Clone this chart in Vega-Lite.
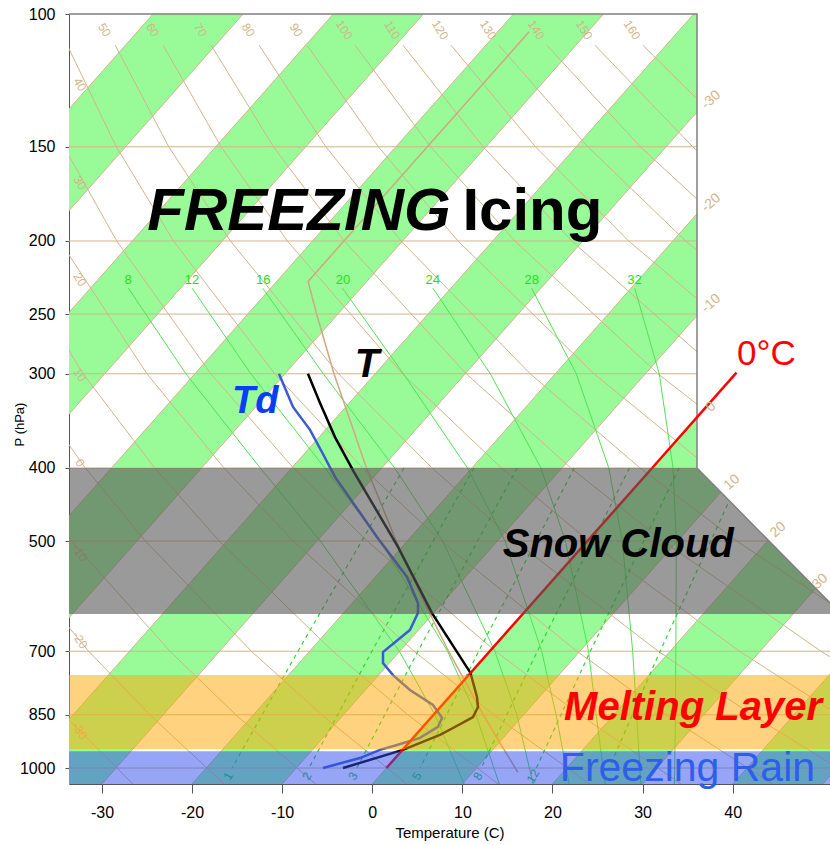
{
"$schema": "https://vega.github.io/schema/vega-lite/v6.json",
"width": 761, "height": 770,
"autosize": {"type": "none"},
"padding": {"left": 69, "top": 14, "right": 0, "bottom": 61},
"background": "white",
"config": {"view": {"stroke": null}, "font": "Liberation Sans",
  "axis": {"grid": false, "labelFont": "Liberation Sans", "titleFont": "Liberation Sans", "labelColor": "#000", "titleColor": "#000", "domainColor": "#555", "tickColor": "#555", "titleFontWeight": "normal"}},
"datasets": {
 "stripes": [
  {"band": -100, "p": 1050, "x": -100, "x2": -90}, {"band": -100, "p": 100, "x": -24.33, "x2": -14.33},
  {"band": -80, "p": 1050, "x": -80, "x2": -70}, {"band": -80, "p": 100, "x": -4.33, "x2": 5.67},
  {"band": -60, "p": 1050, "x": -60, "x2": -50}, {"band": -60, "p": 100, "x": 15.67, "x2": 25.67},
  {"band": -40, "p": 1050, "x": -40, "x2": -30}, {"band": -40, "p": 100, "x": 35.67, "x2": 45.67},
  {"band": -20, "p": 1050, "x": -20, "x2": -10}, {"band": -20, "p": 100, "x": 55.67, "x2": 65.67},
  {"band": 0, "p": 1050, "x": 0, "x2": 10}, {"band": 0, "p": 100, "x": 75.67, "x2": 85.67},
  {"band": 20, "p": 1050, "x": 20, "x2": 30}, {"band": 20, "p": 100, "x": 95.67, "x2": 105.67},
  {"band": 40, "p": 1050, "x": 40, "x2": 50}, {"band": 40, "p": 100, "x": 115.67, "x2": 125.67}
 ],
 "isotherms": [
  {"x": -110, "xt": -34.33, "p": 1050, "pt": 100}, {"x": -100, "xt": -24.33, "p": 1050, "pt": 100},
  {"x": -90, "xt": -14.33, "p": 1050, "pt": 100}, {"x": -80, "xt": -4.33, "p": 1050, "pt": 100},
  {"x": -70, "xt": 5.67, "p": 1050, "pt": 100}, {"x": -60, "xt": 15.67, "p": 1050, "pt": 100},
  {"x": -50, "xt": 25.67, "p": 1050, "pt": 100}, {"x": -40, "xt": 35.67, "p": 1050, "pt": 100},
  {"x": -30, "xt": 45.67, "p": 1050, "pt": 100}, {"x": -20, "xt": 55.67, "p": 1050, "pt": 100},
  {"x": -10, "xt": 65.67, "p": 1050, "pt": 100}, {"x": 0, "xt": 75.67, "p": 1050, "pt": 100},
  {"x": 10, "xt": 85.67, "p": 1050, "pt": 100}, {"x": 20, "xt": 95.67, "p": 1050, "pt": 100},
  {"x": 30, "xt": 105.67, "p": 1050, "pt": 100}, {"x": 40, "xt": 115.67, "p": 1050, "pt": 100},
  {"x": 50, "xt": 125.67, "p": 1050, "pt": 100}
 ],
 "isobars": [{"p": 150}, {"p": 200}, {"p": 250}, {"p": 300}, {"p": 400}, {"p": 500}, {"p": 700}, {"p": 850}, {"p": 1000}],
 "dry": [
  {"th": -30, "p": 500, "x": -49.79}, {"th": -30, "p": 700, "x": -40.51}, {"th": -30, "p": 850, "x": -34.24}, {"th": -30, "p": 1050, "x": -26.58},
  {"th": -20, "p": 500, "x": -41.59}, {"th": -20, "p": 700, "x": -31.48}, {"th": -20, "p": 850, "x": -24.69}, {"th": -20, "p": 1050, "x": -16.44},
  {"th": -10, "p": 300, "x": -46.28}, {"th": -10, "p": 400, "x": -39.55}, {"th": -10, "p": 500, "x": -33.38}, {"th": -10, "p": 700, "x": -22.45}, {"th": -10, "p": 850, "x": -15.15}, {"th": -10, "p": 1050, "x": -6.30},
  {"th": 0, "p": 200, "x": -47.31}, {"th": 0, "p": 300, "x": -39.19}, {"th": 0, "p": 400, "x": -31.85}, {"th": 0, "p": 500, "x": -25.18}, {"th": 0, "p": 700, "x": -13.42}, {"th": 0, "p": 850, "x": -5.60}, {"th": 0, "p": 1050, "x": 3.84},
  {"th": 10, "p": 150, "x": -45.85}, {"th": 10, "p": 200, "x": -41.00}, {"th": 10, "p": 300, "x": -32.10}, {"th": 10, "p": 400, "x": -24.15}, {"th": 10, "p": 500, "x": -16.98}, {"th": 10, "p": 700, "x": -4.39}, {"th": 10, "p": 850, "x": 3.95}, {"th": 10, "p": 1050, "x": 13.98},
  {"th": 20, "p": 110, "x": -44.50}, {"th": 20, "p": 150, "x": -40.04}, {"th": 20, "p": 200, "x": -34.68}, {"th": 20, "p": 300, "x": -25.01}, {"th": 20, "p": 400, "x": -16.46}, {"th": 20, "p": 500, "x": -8.77}, {"th": 20, "p": 700, "x": 4.64}, {"th": 20, "p": 850, "x": 13.49}, {"th": 20, "p": 1050, "x": 24.12},
  {"th": 30, "p": 110, "x": -39.18}, {"th": 30, "p": 150, "x": -34.22}, {"th": 30, "p": 200, "x": -28.37}, {"th": 30, "p": 300, "x": -17.92}, {"th": 30, "p": 400, "x": -8.76}, {"th": 30, "p": 500, "x": -0.57}, {"th": 30, "p": 700, "x": 13.67}, {"th": 30, "p": 850, "x": 23.04}, {"th": 30, "p": 1050, "x": 34.26},
  {"th": 40, "p": 110, "x": -33.86}, {"th": 40, "p": 150, "x": -28.41}, {"th": 40, "p": 200, "x": -22.06}, {"th": 40, "p": 300, "x": -10.83}, {"th": 40, "p": 400, "x": -1.06}, {"th": 40, "p": 500, "x": 7.63}, {"th": 40, "p": 700, "x": 22.70}, {"th": 40, "p": 850, "x": 32.59}, {"th": 40, "p": 1050, "x": 44.40},
  {"th": 50, "p": 110, "x": -28.53}, {"th": 50, "p": 150, "x": -22.59}, {"th": 50, "p": 200, "x": -15.74}, {"th": 50, "p": 300, "x": -3.75}, {"th": 50, "p": 400, "x": 6.63}, {"th": 50, "p": 500, "x": 15.84}, {"th": 50, "p": 700, "x": 31.73}, {"th": 50, "p": 850, "x": 42.13}, {"th": 50, "p": 1050, "x": 54.54},
  {"th": 60, "p": 110, "x": -23.21}, {"th": 60, "p": 150, "x": -16.78}, {"th": 60, "p": 200, "x": -9.43}, {"th": 60, "p": 300, "x": 3.34}, {"th": 60, "p": 400, "x": 14.33}, {"th": 60, "p": 500, "x": 24.04}, {"th": 60, "p": 700, "x": 40.76}, {"th": 60, "p": 850, "x": 51.68},
  {"th": 70, "p": 110, "x": -17.89}, {"th": 70, "p": 150, "x": -10.96}, {"th": 70, "p": 200, "x": -3.12}, {"th": 70, "p": 300, "x": 10.43}, {"th": 70, "p": 400, "x": 22.03}, {"th": 70, "p": 500, "x": 32.25}, {"th": 70, "p": 700, "x": 49.79}, {"th": 70, "p": 850, "x": 61.22},
  {"th": 80, "p": 110, "x": -12.56}, {"th": 80, "p": 150, "x": -5.15}, {"th": 80, "p": 200, "x": 3.20}, {"th": 80, "p": 300, "x": 17.52}, {"th": 80, "p": 400, "x": 29.72}, {"th": 80, "p": 500, "x": 40.45}, {"th": 80, "p": 700, "x": 58.82},
  {"th": 90, "p": 110, "x": -7.24}, {"th": 90, "p": 150, "x": 0.67}, {"th": 90, "p": 200, "x": 9.51}, {"th": 90, "p": 300, "x": 24.61}, {"th": 90, "p": 400, "x": 37.42}, {"th": 90, "p": 500, "x": 48.66}, {"th": 90, "p": 700, "x": 67.85},
  {"th": 100, "p": 110, "x": -1.91}, {"th": 100, "p": 150, "x": 6.48}, {"th": 100, "p": 200, "x": 15.83}, {"th": 100, "p": 300, "x": 31.70}, {"th": 100, "p": 400, "x": 45.12}, {"th": 100, "p": 500, "x": 56.86},
  {"th": 110, "p": 110, "x": 3.41}, {"th": 110, "p": 150, "x": 12.30}, {"th": 110, "p": 200, "x": 22.14}, {"th": 110, "p": 300, "x": 38.79}, {"th": 110, "p": 400, "x": 52.81},
  {"th": 120, "p": 110, "x": 8.73}, {"th": 120, "p": 150, "x": 18.11}, {"th": 120, "p": 200, "x": 28.45}, {"th": 120, "p": 300, "x": 45.88}, {"th": 120, "p": 400, "x": 60.51},
  {"th": 130, "p": 110, "x": 14.06}, {"th": 130, "p": 150, "x": 23.93}, {"th": 130, "p": 200, "x": 34.77}, {"th": 130, "p": 300, "x": 52.97},
  {"th": 140, "p": 110, "x": 19.38}, {"th": 140, "p": 150, "x": 29.75}, {"th": 140, "p": 200, "x": 41.08}, {"th": 140, "p": 300, "x": 60.06},
  {"th": 150, "p": 110, "x": 24.71}, {"th": 150, "p": 150, "x": 35.56}, {"th": 150, "p": 200, "x": 47.40},
  {"th": 160, "p": 110, "x": 30.03}, {"th": 160, "p": 150, "x": 41.38}, {"th": 160, "p": 200, "x": 53.71}
 ],
 "drylabels": [
  {"label": "50", "x": -29.73, "p": 105}, {"label": "60", "x": -24.41, "p": 105}, {"label": "70", "x": -19.09, "p": 105},
  {"label": "80", "x": -13.76, "p": 105}, {"label": "90", "x": -8.44, "p": 105}, {"label": "100", "x": -3.11, "p": 105},
  {"label": "110", "x": 2.21, "p": 105}, {"label": "120", "x": 7.53, "p": 105}, {"label": "130", "x": 12.86, "p": 105},
  {"label": "140", "x": 18.18, "p": 105}, {"label": "150", "x": 23.51, "p": 105}, {"label": "160", "x": 28.83, "p": 105},
  {"label": "40", "x": -32.44, "p": 124}, {"label": "30", "x": -32.44, "p": 167.5}, {"label": "20", "x": -32.44, "p": 225},
  {"label": "10", "x": -32.44, "p": 301}, {"label": "0", "x": -32.44, "p": 394}, {"label": "-10", "x": -32.44, "p": 518.6},
  {"label": "-20", "x": -32.44, "p": 676.6}, {"label": "-30", "x": -32.44, "p": 893}
 ],
 "moist": [
  {"tw": 8, "p": 231, "x": -27.07}, {"tw": 8, "p": 300, "x": -20.69}, {"tw": 8, "p": 400, "x": -12.44}, {"tw": 8, "p": 500, "x": -5.77}, {"tw": 8, "p": 700, "x": 3.0}, {"tw": 8, "p": 850, "x": 6.95}, {"tw": 8, "p": 1050, "x": 10.2},
  {"tw": 12, "p": 231, "x": -20.0}, {"tw": 12, "p": 300, "x": -13.48}, {"tw": 12, "p": 400, "x": -5.27}, {"tw": 12, "p": 500, "x": 0.89}, {"tw": 12, "p": 700, "x": 8.35}, {"tw": 12, "p": 850, "x": 11.5}, {"tw": 12, "p": 1050, "x": 14.1},
  {"tw": 16, "p": 231, "x": -12.16}, {"tw": 16, "p": 300, "x": -5.44}, {"tw": 16, "p": 400, "x": 2.48}, {"tw": 16, "p": 500, "x": 7.81}, {"tw": 16, "p": 700, "x": 13.6}, {"tw": 16, "p": 850, "x": 16.05}, {"tw": 16, "p": 1050, "x": 17.85},
  {"tw": 20, "p": 231, "x": -3.31}, {"tw": 20, "p": 300, "x": 3.45}, {"tw": 20, "p": 400, "x": 10.56}, {"tw": 20, "p": 500, "x": 14.73}, {"tw": 20, "p": 700, "x": 18.8}, {"tw": 20, "p": 850, "x": 20.4}, {"tw": 20, "p": 1050, "x": 21.85},
  {"tw": 24, "p": 231, "x": 6.73}, {"tw": 24, "p": 300, "x": 13.1}, {"tw": 24, "p": 400, "x": 18.71}, {"tw": 24, "p": 500, "x": 21.43}, {"tw": 24, "p": 700, "x": 24.0}, {"tw": 24, "p": 850, "x": 24.85}, {"tw": 24, "p": 1050, "x": 25.85},
  {"tw": 28, "p": 231, "x": 17.68}, {"tw": 28, "p": 300, "x": 22.64}, {"tw": 28, "p": 400, "x": 26.25}, {"tw": 28, "p": 500, "x": 27.75}, {"tw": 28, "p": 700, "x": 28.9}, {"tw": 28, "p": 850, "x": 29.34}, {"tw": 28, "p": 1050, "x": 29.8},
  {"tw": 32, "p": 231, "x": 29.13}, {"tw": 32, "p": 300, "x": 31.85}, {"tw": 32, "p": 400, "x": 33.38}, {"tw": 32, "p": 500, "x": 33.74}, {"tw": 32, "p": 700, "x": 33.69}, {"tw": 32, "p": 850, "x": 33.65}, {"tw": 32, "p": 1050, "x": 33.53}
 ],
 "moistlabels": [
  {"label": "8", "x": -27.1, "p": 225}, {"label": "12", "x": -20.0, "p": 225}, {"label": "16", "x": -12.1, "p": 225},
  {"label": "20", "x": -3.25, "p": 225}, {"label": "24", "x": 6.7, "p": 225}, {"label": "28", "x": 17.7, "p": 225}, {"label": "32", "x": 29.1, "p": 225}
 ],
 "mixing": [
  {"w": 1, "p": 1000, "x": -15.56}, {"w": 1, "p": 700, "x": -8.25}, {"w": 1, "p": 400, "x": 3.52},
  {"w": 2, "p": 1000, "x": -7.03}, {"w": 2, "p": 700, "x": -0.04}, {"w": 2, "p": 400, "x": 11.27},
  {"w": 3, "p": 1000, "x": -1.71}, {"w": 3, "p": 700, "x": 5.07}, {"w": 3, "p": 400, "x": 16.08},
  {"w": 5, "p": 1000, "x": 5.29}, {"w": 5, "p": 700, "x": 11.81}, {"w": 5, "p": 400, "x": 22.42},
  {"w": 8, "p": 1000, "x": 12.08}, {"w": 8, "p": 700, "x": 18.32}, {"w": 8, "p": 400, "x": 28.54},
  {"w": 12, "p": 1000, "x": 18.21}, {"w": 12, "p": 700, "x": 24.2}, {"w": 12, "p": 400, "x": 34.05},
  {"w": 20, "p": 1000, "x": 26.29}, {"w": 20, "p": 700, "x": 31.94}, {"w": 20, "p": 400, "x": 41.29}
 ],
 "mixlabels": [
  {"label": "1", "x": -16.0, "p": 1025}, {"label": "2", "x": -7.25, "p": 1025}, {"label": "3", "x": -2.14, "p": 1025},
  {"label": "5", "x": 4.96, "p": 1025}, {"label": "8", "x": 11.73, "p": 1025}, {"label": "12", "x": 17.84, "p": 1025}
 ],
 "stdatm": [
  {"p": 105.6, "x": 17.4}, {"p": 226.3, "x": -7.12}, {"p": 250, "x": -6.18}, {"p": 300, "x": -4.25}, {"p": 400, "x": -0.64},
  {"p": 500, "x": 2.65}, {"p": 600, "x": 5.67}, {"p": 700, "x": 8.47}, {"p": 850, "x": 12.33}, {"p": 925, "x": 14.13},
  {"p": 1000, "x": 15.87}, {"p": 1013, "x": 16.15}
 ],
 "temp": [
  {"p": 300, "x": -7.14}, {"p": 328, "x": -5.80}, {"p": 364, "x": -4.14}, {"p": 405, "x": -2.03}, {"p": 509, "x": 2.85},
  {"p": 623, "x": 6.63}, {"p": 748, "x": 10.9}, {"p": 805, "x": 11.62}, {"p": 830, "x": 11.73}, {"p": 856, "x": 11.18},
  {"p": 885, "x": 8.96}, {"p": 904, "x": 7.51}, {"p": 946, "x": 3.4}, {"p": 1000, "x": -3.25}
 ],
 "dewp": [
  {"p": 300, "x": -10.36}, {"p": 332, "x": -8.80}, {"p": 356, "x": -6.91}, {"p": 381, "x": -5.59}, {"p": 411, "x": -4.14},
  {"p": 494, "x": 0.52}, {"p": 558, "x": 3.85}, {"p": 604, "x": 5.07}, {"p": 623, "x": 5.07}, {"p": 656, "x": 4.18},
  {"p": 702, "x": 1.19}, {"p": 726, "x": 1.19}, {"p": 753, "x": 2.30}, {"p": 788, "x": 4.18}, {"p": 825, "x": 6.74},
  {"p": 858, "x": 7.74}, {"p": 882, "x": 7.29}, {"p": 912, "x": 5.29}, {"p": 932, "x": 2.74}, {"p": 946, "x": 0.85},
  {"p": 970, "x": -1.37}, {"p": 1000, "x": -5.47}
 ],
 "zerolow": [{"p": 1000, "x": 1.57}, {"p": 400, "x": 31.06}],
 "zerotop": [{"p": 400, "x": 31.06}, {"p": 299, "x": 40.42}],
 "mask": [{"p": 100, "x": 36.04, "x2": 60}, {"p": 400, "x": 36.04, "x2": 60}, {"p": 604, "x": 50.8, "x2": 60}],
 "frame": [{"i": 0, "p": 100, "x": -33.66}, {"i": 1, "p": 100, "x": 36.04}, {"i": 2, "p": 400, "x": 36.04}, {"i": 3, "p": 604, "x": 50.8}],
 "isolabels": [
  {"label": "-30", "x": 37.6, "p": 130}, {"label": "-20", "x": 37.6, "p": 178}, {"label": "-10", "x": 37.6, "p": 242},
  {"label": "0", "x": 37.6, "p": 332}, {"label": "10", "x": 39.92, "p": 418}, {"label": "20", "x": 45.03, "p": 483}, {"label": "30", "x": 49.7, "p": 566}
 ]
},
"layer": [
 {"data": {"name": "stripes"}, "mark": {"type": "area", "orient": "horizontal", "color": "#98fb98", "opacity": 1, "clip": true},
  "encoding": {
   "y": {"field": "p", "type": "quantitative", "scale": {"type": "log", "domain": [100, 1050], "reverse": true, "nice": false},
         "axis": {"values": [100, 150, 200, 250, 300, 400, 500, 700, 850, 1000], "format": "d", "title": "P (hPa)", "tickSize": 4, "labelPadding": 10, "labelFontSize": 16, "titleFontSize": 13, "titleX": -43, "titleY": 410}},
   "x": {"field": "x", "type": "quantitative", "stack": null, "scale": {"domain": [-33.66, 50.8], "nice": false, "zero": false},
         "axis": {"values": [-30, -20, -10, 0, 10, 20, 30, 40], "labelExpr": "datum.value + ''", "title": "Temperature (C)", "tickSize": 9, "labelPadding": 11, "labelFontSize": 16, "titleFontSize": 15, "titlePadding": 5}},
   "x2": {"field": "x2"},
   "detail": {"field": "band"}}},
 {"data": {"name": "isotherms"}, "mark": {"type": "rule", "color": "#d2b48c", "strokeWidth": 1, "clip": true},
  "encoding": {"x": {"field": "x", "type": "quantitative"}, "x2": {"field": "xt"}, "y": {"field": "p", "type": "quantitative"}, "y2": {"field": "pt"}}},
 {"data": {"name": "isobars"}, "mark": {"type": "rule", "color": "#d2b48c", "strokeWidth": 1},
  "encoding": {"y": {"field": "p", "type": "quantitative"}}},
 {"data": {"name": "dry"}, "mark": {"type": "line", "color": "#d2b48c", "strokeWidth": 1, "clip": true},
  "encoding": {"x": {"field": "x", "type": "quantitative"}, "y": {"field": "p", "type": "quantitative"}, "detail": {"field": "th"}, "order": {"field": "p"}}},
 {"data": {"name": "moist"}, "mark": {"type": "line", "color": "#55e055", "strokeWidth": 1, "clip": true},
  "encoding": {"x": {"field": "x", "type": "quantitative"}, "y": {"field": "p", "type": "quantitative"}, "detail": {"field": "tw"}, "order": {"field": "p"}}},
 {"data": {"name": "mixing"}, "mark": {"type": "line", "color": "#2fd82f", "strokeWidth": 1.2, "strokeDash": [4, 4], "clip": true},
  "encoding": {"x": {"field": "x", "type": "quantitative"}, "y": {"field": "p", "type": "quantitative"}, "detail": {"field": "w"}, "order": {"field": "p"}}},
 {"data": {"name": "drylabels"}, "mark": {"type": "text", "color": "#d2b48c", "fontSize": 12, "angle": 58, "align": "center", "baseline": "middle"},
  "encoding": {"x": {"field": "x", "type": "quantitative"}, "y": {"field": "p", "type": "quantitative"}, "text": {"field": "label"}}},
 {"data": {"name": "moistlabels"}, "mark": {"type": "text", "color": "#1ee01e", "fontSize": 13, "align": "center", "baseline": "middle"},
  "encoding": {"x": {"field": "x", "type": "quantitative"}, "y": {"field": "p", "type": "quantitative"}, "text": {"field": "label"}}},
 {"data": {"name": "mixlabels"}, "mark": {"type": "text", "color": "#1ec83c", "fontSize": 12, "angle": 300, "align": "center", "baseline": "middle"},
  "encoding": {"x": {"field": "x", "type": "quantitative"}, "y": {"field": "p", "type": "quantitative"}, "text": {"field": "label"}}},
 {"data": {"name": "stdatm"}, "mark": {"type": "line", "color": "#cfa880", "strokeWidth": 1.5, "clip": true},
  "encoding": {"x": {"field": "x", "type": "quantitative"}, "y": {"field": "p", "type": "quantitative"}, "order": {"field": "p"}}},
 {"data": {"name": "dewp"}, "mark": {"type": "line", "color": "#3c5ad2", "strokeWidth": 2.5},
  "encoding": {"x": {"field": "x", "type": "quantitative"}, "y": {"field": "p", "type": "quantitative"}, "order": {"field": "p"}}},
 {"data": {"name": "temp"}, "mark": {"type": "line", "color": "#000000", "strokeWidth": 2.5},
  "encoding": {"x": {"field": "x", "type": "quantitative"}, "y": {"field": "p", "type": "quantitative"}, "order": {"field": "p"}}},
 {"data": {"name": "zerolow"}, "mark": {"type": "line", "color": "#ff0000", "strokeWidth": 2.5},
  "encoding": {"x": {"field": "x", "type": "quantitative"}, "y": {"field": "p", "type": "quantitative"}, "order": {"field": "p"}}},
 {"data": {"values": [{"p": 400, "p2": 625}]}, "mark": {"type": "rect", "color": "#575757", "opacity": 0.6},
  "encoding": {"y": {"field": "p", "type": "quantitative"}, "y2": {"field": "p2"}}},
 {"data": {"values": [{"p": 753, "p2": 944}]}, "mark": {"type": "rect", "color": "#ffa500", "opacity": 0.5},
  "encoding": {"y": {"field": "p", "type": "quantitative"}, "y2": {"field": "p2"}}},
 {"data": {"values": [{"p": 950, "p2": 1050}]}, "mark": {"type": "rect", "color": "#2d4beb", "opacity": 0.5},
  "encoding": {"y": {"field": "p", "type": "quantitative"}, "y2": {"field": "p2"}}},
 {"data": {"name": "mask"}, "mark": {"type": "area", "orient": "horizontal", "color": "#ffffff", "opacity": 1, "clip": true},
  "encoding": {"y": {"field": "p", "type": "quantitative"}, "x": {"field": "x", "type": "quantitative", "stack": null}, "x2": {"field": "x2"}}},
 {"data": {"name": "frame"}, "mark": {"type": "line", "color": "#808080", "strokeWidth": 1.5},
  "encoding": {"x": {"field": "x", "type": "quantitative"}, "y": {"field": "p", "type": "quantitative"}, "order": {"field": "i"}}},
 {"data": {"name": "zerotop"}, "mark": {"type": "line", "color": "#ff0000", "strokeWidth": 2.5},
  "encoding": {"x": {"field": "x", "type": "quantitative"}, "y": {"field": "p", "type": "quantitative"}, "order": {"field": "p"}}},
 {"data": {"name": "isolabels"}, "mark": {"type": "text", "color": "#d2b48c", "fontSize": 14, "angle": 318, "align": "center", "baseline": "middle"},
  "encoding": {"x": {"field": "x", "type": "quantitative"}, "y": {"field": "p", "type": "quantitative"}, "text": {"field": "label"}}},
 {"data": {"values": [{"label": "FREEZING", "x": 8.7, "p": 193.4}]}, "mark": {"type": "text", "font": "Liberation Sans", "fontSize": 60, "fontWeight": "bold", "fontStyle": "italic", "align": "right", "baseline": "alphabetic", "color": "#000000"},
  "encoding": {"x": {"field": "x", "type": "quantitative"}, "y": {"field": "p", "type": "quantitative"}, "text": {"field": "label"}}},
 {"data": {"values": [{"label": "Icing", "x": 10.0, "p": 193.4}]}, "mark": {"type": "text", "font": "Liberation Sans", "fontSize": 60, "fontWeight": "bold", "align": "left", "baseline": "alphabetic", "color": "#000000"},
  "encoding": {"x": {"field": "x", "type": "quantitative"}, "y": {"field": "p", "type": "quantitative"}, "text": {"field": "label"}}},
 {"data": {"values": [{"label": "T", "x": -0.59, "p": 302.9}]}, "mark": {"type": "text", "font": "Liberation Sans", "fontSize": 40, "fontWeight": "bold", "fontStyle": "italic", "align": "center", "baseline": "alphabetic", "color": "#000000"},
  "encoding": {"x": {"field": "x", "type": "quantitative"}, "y": {"field": "p", "type": "quantitative"}, "text": {"field": "label"}}},
 {"data": {"values": [{"label": "Td", "x": -13.0, "p": 338.2}]}, "mark": {"type": "text", "font": "Liberation Sans", "fontSize": 38, "fontWeight": "bold", "fontStyle": "italic", "align": "center", "baseline": "alphabetic", "color": "#0b3df5"},
  "encoding": {"x": {"field": "x", "type": "quantitative"}, "y": {"field": "p", "type": "quantitative"}, "text": {"field": "label"}}},
 {"data": {"values": [{"label": "0°C", "x": 40.47, "p": 292}]}, "mark": {"type": "text", "font": "Liberation Sans", "fontSize": 35, "align": "left", "baseline": "alphabetic", "color": "#ff0000"},
  "encoding": {"x": {"field": "x", "type": "quantitative"}, "y": {"field": "p", "type": "quantitative"}, "text": {"field": "label"}}},
 {"data": {"values": [{"label": "Snow Cloud", "x": 27.3, "p": 525}]}, "mark": {"type": "text", "font": "Liberation Sans", "fontSize": 40, "fontWeight": "bold", "fontStyle": "italic", "align": "center", "baseline": "alphabetic", "color": "#000000"},
  "encoding": {"x": {"field": "x", "type": "quantitative"}, "y": {"field": "p", "type": "quantitative"}, "text": {"field": "label"}}},
 {"data": {"values": [{"label": "Melting Layer", "x": 35.6, "p": 863.7}]}, "mark": {"type": "text", "font": "Liberation Sans", "fontSize": 40, "fontWeight": "bold", "fontStyle": "italic", "align": "center", "baseline": "alphabetic", "color": "#ff0000"},
  "encoding": {"x": {"field": "x", "type": "quantitative"}, "y": {"field": "p", "type": "quantitative"}, "text": {"field": "label"}}},
 {"data": {"values": [{"label": "Freezing Rain", "x": 34.98, "p": 1040}]}, "mark": {"type": "text", "font": "Liberation Sans", "fontSize": 41, "align": "center", "baseline": "alphabetic", "color": "#2f5fe8"},
  "encoding": {"x": {"field": "x", "type": "quantitative"}, "y": {"field": "p", "type": "quantitative"}, "text": {"field": "label"}}}
]
}
